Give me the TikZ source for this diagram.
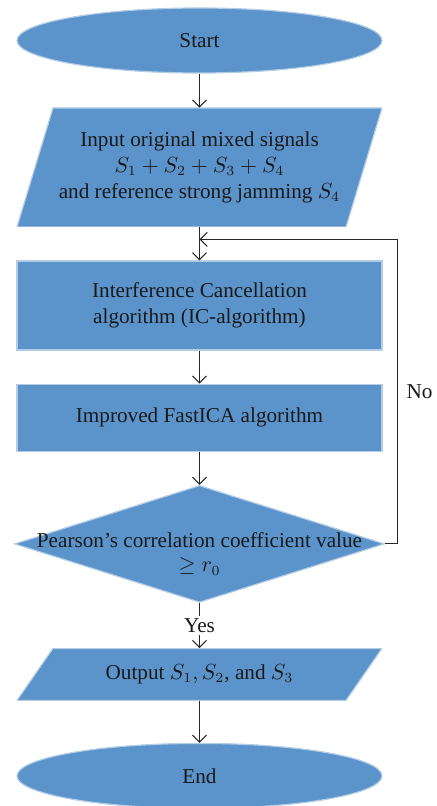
\documentclass[tikz,border=0pt]{standalone}
\usepackage{fontspec}
\setmainfont{Liberation Serif}
\usetikzlibrary{positioning, shapes.geometric, arrows.meta, calc}
\definecolor{boxblue}{HTML}{5B94CB}
\definecolor{boxrim}{HTML}{B4CDE6}
\tikzset{
  flow/.style={-{Straight Barb[length=3.5pt, width=7pt]}, draw=black!85, line width=0.5pt},
  shapetext/.style={align=center, text=black!90, font=\fontsize{10.6}{13}\selectfont},
  shapebase/.style={shapetext, draw=boxrim, fill=boxblue, line width=0.6pt, inner sep=0},
  terminal/.style={shapebase, ellipse, minimum width=182.5pt, minimum height=32.5pt},
  io/.style={shapetext, rectangle, inner sep=0, minimum width=182.5pt, path picture={
    \filldraw[draw=boxrim, fill=boxblue, line width=0.6pt] (path picture bounding box.south west)
      -- ($(path picture bounding box.north west)+(18pt,0)$) -- (path picture bounding box.north east)
      -- ($(path picture bounding box.south east)-(18pt,0)$) -- cycle;
  }},
  process/.style={shapebase, rectangle, minimum width=182.5pt},
  decision/.style={shapebase, diamond, minimum width=185pt, minimum height=58.5pt}
}
\begin{document}
\begin{tikzpicture}[every label/.style={shapetext}]
    \useasboundingbox (-99.75pt,20.25pt) rectangle (118.75pt,-382.75pt);
    \node[terminal] (start) at (0,0) {Start};
    \node[io, minimum height=59.5pt, below=17pt of start] (input) {Input original mixed signals\\ $S_1+S_2+S_3+S_4$\\ and reference strong jamming $S_4$};
    \node[process, minimum height=44.5pt, below=16.5pt of input] (cancel) {Interference Cancellation\\ algorithm (IC-algorithm)};
    \node[process, minimum height=33.5pt, below=16.5pt of cancel] (fastica) {Improved FastICA algorithm};
    \node[decision, below=16.5pt of fastica, label={[yshift=-5pt, font=\fontsize{10.6}{12}\selectfont]center:Pearson's correlation coefficient value\\ $\geq r_0$}] (check) {};
    \node[io, minimum height=26pt, below=22.5pt of check] (output) {Output $S_1, S_2$, and $S_3$};
    \node[terminal, below=21pt of output] (end) {End};
    \coordinate[below=6pt of input.south] (merge);
    \draw[flow] (start) -- (input);
    \draw[flow] (input) -- (cancel);
    \draw[flow] (cancel) -- (fastica);
    \draw[flow] (fastica) -- (check);
    \draw[flow] (check) -- node[shapetext, fill=white, inner sep=1pt] {Yes} (output);
    \draw[flow] (output) -- (end);
    \draw[flow] (check.east) -- ++(6pt,0) |- node[shapetext, pos=0.25, right=4.5pt, inner sep=0] {No} (merge);
\end{tikzpicture}
\end{document}
